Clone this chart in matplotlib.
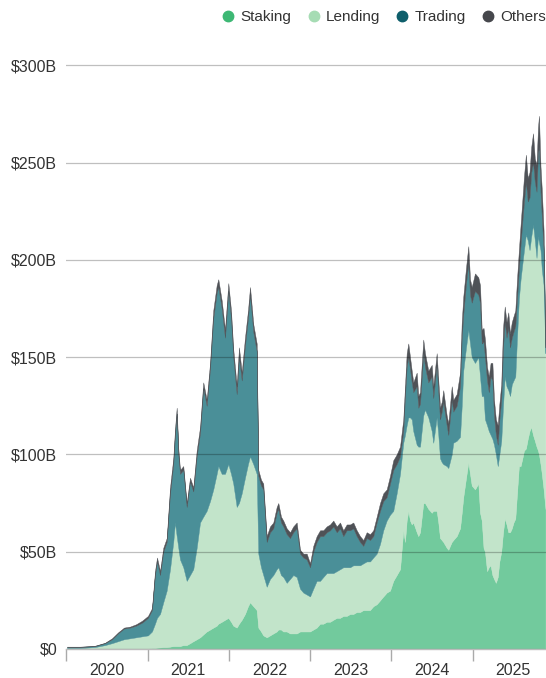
import matplotlib
matplotlib.use("Agg")
import matplotlib.pyplot as plt
from matplotlib.lines import Line2D
import numpy as np

plt.rcParams['font.family'] = ['Liberation Sans', 'DejaVu Sans']

# time (decimal years)
t = [2020.010, 2020.170, 2020.354, 2020.477, 2020.563, 2020.637, 2020.711, 2020.785, 2020.859, 2020.932,
     2021.006, 2021.055, 2021.092, 2021.117, 2021.154, 2021.194, 2021.236, 2021.277, 2021.317, 2021.338,
     2021.359, 2021.379, 2021.400, 2021.440, 2021.482, 2021.523, 2021.563, 2021.605, 2021.646, 2021.686,
     2021.728, 2021.769, 2021.809, 2021.851, 2021.871, 2021.913, 2021.953, 2021.994, 2022.027, 2022.055,
     2022.097, 2022.125, 2022.159, 2022.199, 2022.236, 2022.261, 2022.301, 2022.343, 2022.363, 2022.396,
     2022.424, 2022.466, 2022.507, 2022.547, 2022.589, 2022.609, 2022.642, 2022.670, 2022.712, 2022.753,
     2022.793, 2022.835, 2022.876, 2022.916, 2022.958, 2022.999, 2023.039, 2023.081, 2023.122, 2023.162,
     2023.204, 2023.245, 2023.285, 2023.327, 2023.368, 2023.408, 2023.450, 2023.491, 2023.531, 2023.573,
     2023.614, 2023.654, 2023.696, 2023.737, 2023.777, 2023.819, 2023.860, 2023.900, 2023.942, 2023.983,
     2024.023, 2024.065, 2024.106, 2024.146, 2024.167, 2024.188, 2024.208, 2024.229, 2024.250, 2024.269,
     2024.311, 2024.331, 2024.352, 2024.392, 2024.413, 2024.454, 2024.496, 2024.515, 2024.557, 2024.577,
     2024.598, 2024.619, 2024.638, 2024.680, 2024.700, 2024.742, 2024.761, 2024.803, 2024.844, 2024.865,
     2024.884, 2024.918, 2024.946, 2024.967, 2024.988, 2025.028, 2025.069, 2025.090, 2025.111, 2025.133,
     2025.151, 2025.176, 2025.198, 2025.220, 2025.242, 2025.262, 2025.285, 2025.308, 2025.328, 2025.351,
     2025.373, 2025.394, 2025.416, 2025.438, 2025.459, 2025.481, 2025.502, 2025.524, 2025.545, 2025.568,
     2025.589, 2025.611, 2025.631, 2025.654, 2025.677, 2025.699, 2025.720, 2025.742, 2025.764, 2025.785,
     2025.803, 2025.815, 2025.834, 2025.850, 2025.872, 2025.894]

staking = [0, 0, 0, 0, 0, 0, 0, 0, 0, 0.2,
           0.3, 0.5, 0.5, 0.7, 0.8, 1, 1, 1.2, 1.5, 1.5,
           1.5, 1.5, 1.5, 2, 2, 3, 4, 5, 6, 7.5,
           9, 10, 11, 12, 13, 14, 15, 16, 14, 12,
           11, 13, 15, 18, 22, 24, 22, 20, 11, 9,
           7, 6, 7, 8, 9, 10, 10, 9, 9, 8,
           8, 8, 9, 9, 9, 9, 10, 11, 13, 13,
           14, 14, 15, 16, 16, 17, 17, 18, 18, 19,
           19, 20, 20, 20, 22, 23, 25, 27, 29, 30,
           35, 38, 41, 61, 55, 66, 71, 66, 64, 65,
           60, 58, 60, 75, 75, 72, 70, 71, 71, 65,
           57, 56, 55, 52, 51, 55, 56, 58, 62, 70,
           78, 88, 96, 90, 84, 82, 85, 70, 66, 52,
           50, 40, 42, 43, 38, 36, 34, 37, 45, 50,
           60, 67, 64, 60, 60, 62, 65, 67, 80, 94,
           94, 98, 102, 103, 108, 112, 114, 110, 107, 104,
           102, 100, 95, 90, 82, 72]

lending = [0.5, 0.5, 1, 2, 3, 4, 5, 5.5, 6, 6.3,
           6.7, 8.5, 12.5, 15.3, 17.2, 23, 29, 39.8, 53.5, 63.5,
           56.5, 50.5, 44.5, 40, 33, 35, 37, 47, 59, 60.5,
           62, 66, 71, 78, 81, 76, 75, 79, 76, 73,
           62, 62, 65, 70, 73, 75, 73, 70, 38, 33,
           31, 26, 29, 30, 32, 32, 28, 28, 25, 28,
           30, 29, 22, 20, 19, 18, 21, 24, 22, 24,
           25, 25, 24, 24, 25, 25, 25, 24, 25, 24,
           24, 24, 25, 25, 25, 26, 29, 34, 37, 39,
           36, 42, 49, 45, 55, 49, 48, 53, 54, 47,
           45, 46, 44, 45, 48, 47, 42, 35, 48, 45,
           41, 40, 40, 42, 42, 45, 50, 49, 47, 55,
           65, 67, 68, 67, 66, 65, 65, 70, 64, 78,
           68, 75, 70, 67, 70, 69, 66, 57, 55, 57,
           65, 73, 71, 73, 70, 74, 73, 73, 80, 86,
           96, 100, 103, 110, 102, 93, 98, 108, 103, 97,
           110, 109, 110, 105, 105, 80]

trading = [0.5, 0.5, 0.5, 1, 2, 4, 5.5, 5.5, 6, 7,
           9, 11, 25, 29, 20, 26, 25, 39, 40, 45,
           63, 48, 44, 50, 38, 48, 40, 47, 46, 66,
           54, 68, 88, 93, 92, 85, 70, 89, 80, 65,
           58, 75, 58, 68, 75, 83, 68, 63, 40, 42,
           44, 23, 24, 24, 29, 30, 27, 26, 25, 21,
           22, 25, 18, 18, 18, 15, 19, 20, 23, 21,
           21, 22, 24, 20, 21, 16, 19, 19, 19, 15,
           12, 9, 12, 11, 11, 16, 17, 15, 12, 16,
           21, 15, 9, 6, 20, 30, 31, 25, 19, 20,
           30, 20, 22, 32, 22, 18, 28, 23, 27, 22,
           20, 26, 32, 21, 17, 28, 16, 18, 26, 35,
           29, 33, 34, 25, 28, 37, 32, 38, 27, 28,
           32, 23, 20, 30, 30, 15, 10, 11, 18, 21,
           30, 28, 25, 32, 25, 24, 25, 26, 20, 15,
           18, 22, 25, 27, 20, 27, 33, 32, 30, 34,
           43, 49, 30, 27, 18, 3]

others = [0.2, 0.2, 0.2, 0.2, 0.5, 0.5, 0.5, 0.5, 0.7, 1,
          1, 1, 2, 2, 2, 2, 2, 3, 3, 3,
          3, 3, 2, 2, 2, 2, 2, 3, 3, 3,
          3, 3, 4, 4, 4, 4, 4, 4, 4, 4,
          4, 5, 4, 4, 4, 4, 4, 4, 3, 3,
          3, 3, 3, 3, 3, 3, 3, 3, 3, 3,
          3, 3, 2, 2, 3, 2, 3, 3, 3, 3,
          3, 3, 3, 3, 3, 3, 3, 3, 3, 3,
          3, 3, 3, 3, 3, 3, 4, 4, 4, 4,
          5, 5, 5, 6, 5, 7, 7, 6, 6, 5,
          7, 6, 6, 7, 7, 6, 6, 6, 6, 6,
          6, 5, 6, 5, 6, 7, 6, 6, 7, 8,
          9, 8, 9, 8, 8, 9, 9, 9, 7, 7,
          9, 7, 8, 7, 9, 8, 8, 10, 8, 8,
          10, 8, 8, 8, 7, 8, 8, 8, 10, 10,
          10, 11, 13, 14, 12, 13, 13, 15, 12, 14,
          13, 16, 13, 14, 10, 7]

series_names = ["Staking", "Lending", "Trading", "Others"]
legend_colors = ["#3DB874", "#A6DCB4", "#0E5E6B", "#46474C"]
area_colors = ["#72CA9D", "#C2E4CA", "#4A8F98", "#4F5257"]
y_ticks = [0, 50, 100, 150, 200, 250, 300]
y_labels = ["$0", "$50B", "$100B", "$150B", "$200B", "$250B", "$300B"]
years = [2020, 2021, 2022, 2023, 2024, 2025]

W, H = 546, 678
fig = plt.figure(figsize=(W / 100, H / 100), dpi=100)
left, right, bottom_px, top_px = 66.2, 546, 649, 40
ax = fig.add_axes([left / W, (H - bottom_px) / H, (right - left) / W, (bottom_px - top_px) / H])

ax.stackplot(t, staking, lending, trading, others, colors=area_colors, linewidth=0.3,
             edgecolor='face', zorder=1)

ax.set_xlim(2020.0, 2020.0 + (right - left) / 81.3)
ax.set_ylim(0, (bottom_px - top_px) / 1.946)

ax.set_axisbelow(False)
ax.set_yticks(y_ticks)
ax.set_yticklabels(y_labels)
ax.tick_params(axis='y', length=0, pad=6.5, labelsize=11.5, labelcolor='#333333')
ax.grid(axis='y', color='black', alpha=0.25, linewidth=0.9)
ax.grid(axis='x', visible=False)

ax.set_xticks(years)
ax.set_xticklabels([])
ax.set_xticks([y + 0.5 for y in years], minor=True)
ax.set_xticklabels([str(y) for y in years], minor=True)
ax.tick_params(axis='x', which='major', length=8.6, width=1, color='#AAAAAA', direction='out')
ax.tick_params(axis='x', which='minor', length=0, pad=10, labelsize=11.5, labelcolor='#333333')

for s in ['top', 'right', 'left']:
    ax.spines[s].set_visible(False)
ax.spines['bottom'].set_color('#BBBBBB')
ax.spines['bottom'].set_linewidth(1)
ax.spines['bottom'].set_zorder(4)

handles = [Line2D([0], [0], marker='o', linestyle='none', markersize=7.5,
                  markerfacecolor=c, markeredgecolor=c) for c in legend_colors]
fig.legend(handles, series_names, loc='upper right', bbox_to_anchor=(1.0, 1 - 10 / H),
           ncol=4, frameon=False, fontsize=11, handlelength=0.8, handletextpad=0.4,
           columnspacing=1.05, borderpad=0, borderaxespad=0, labelcolor='#333333')

fig.savefig("out.png", dpi=100)
